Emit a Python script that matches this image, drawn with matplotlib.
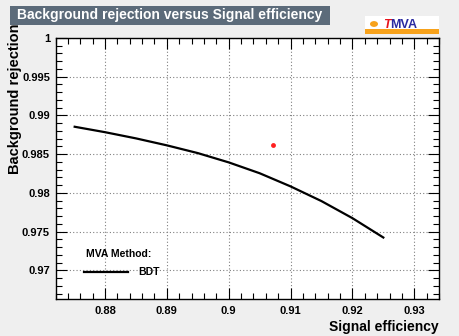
import matplotlib
matplotlib.use('Agg')
import matplotlib.pyplot as plt
from matplotlib.patches import Rectangle
from matplotlib.ticker import MultipleLocator, FuncFormatter

# ROC curve for the BDT classifier
sig_eff = [0.8751, 0.880, 0.885, 0.890, 0.895, 0.900, 0.905, 0.910, 0.915, 0.920, 0.925]
bkg_rej = [0.98854, 0.98784, 0.98704, 0.98614, 0.98514, 0.98394, 0.98254, 0.98084,
           0.97894, 0.97674, 0.97424]

# single working point marker
point_eff = [0.9071]
point_rej = [0.98622]

FONT = 'Liberation Sans'
BG = '#efefef'

fig = plt.figure(figsize=(4.59, 3.36), dpi=100, facecolor=BG)
W, H = 459, 336
left, right, top, bottom = 55.5, 439, 38, 299
ax = fig.add_axes([left / W, 1 - bottom / H, (right - left) / W, (bottom - top) / H])

ax.plot(sig_eff, bkg_rej, color='black', lw=1.6, solid_joinstyle='round')
ax.plot(point_eff, point_rej, 'o', color='#ff2020', ms=3.5, mew=0)

ax.set_xlim(0.872, 0.934)
ax.set_ylim(0.9663, 1.0)

ax.xaxis.set_major_locator(MultipleLocator(0.01))
ax.xaxis.set_minor_locator(MultipleLocator(0.002))
ax.yaxis.set_major_locator(MultipleLocator(0.005))
ax.yaxis.set_minor_locator(MultipleLocator(0.001))
ax.xaxis.set_major_formatter(FuncFormatter(lambda v, p: f'{round(v, 4):g}'))
ax.yaxis.set_major_formatter(FuncFormatter(lambda v, p: f'{round(v, 4):g}'))

ax.tick_params(which='both', direction='in', top=True, right=True, colors='black',
               width=0.8, labelsize=8)
ax.tick_params(which='major', length=8)
ax.tick_params(which='minor', length=4)
for lab in ax.get_xticklabels() + ax.get_yticklabels():
    lab.set_fontfamily(FONT)
    lab.set_fontweight('bold')
ax.tick_params(axis='x', pad=5)
ax.tick_params(axis='y', pad=4)

# dotted grid on the major ticks
ax.grid(True, which='major', color='#808080', ls=(0, (1, 2)), lw=0.8)
for s in ax.spines.values():
    s.set_linewidth(1.0)

# axis titles, ROOT style (aligned to the far ends)
fig.text(right / W, 1 - 327 / H, 'Signal efficiency', ha='right', va='center',
         fontsize=10, fontweight='bold', family=FONT)
fig.text(15 / W, 1 - 24 / H, 'Background rejection', ha='center', va='top',
         rotation=90, fontsize=10.5, fontweight='bold', family=FONT)

# legend
ax.text(0.080, 0.172, 'MVA Method:', transform=ax.transAxes, fontsize=7.5,
        fontweight='bold', family=FONT, va='center')
ax.plot([0.075, 0.19], [0.105, 0.105], transform=ax.transAxes, color='black', lw=1.6)
ax.text(0.215, 0.105, 'BDT', transform=ax.transAxes, fontsize=7.5,
        fontweight='bold', family=FONT, va='center')

# title box
fig.patches.append(Rectangle((10 / W, 1 - 25 / H), 320 / W, 19 / H,
                             transform=fig.transFigure, facecolor='#5c6b7a',
                             edgecolor='none'))
fig.text(17 / W, 1 - 15.5 / H, 'Background rejection versus Signal efficiency',
         ha='left', va='center', color='white', fontsize=10, fontweight='bold',
         family=FONT)

# TMVA logo
fig.patches.append(Rectangle((365 / W, 1 - 34 / H), 74 / W, 18 / H,
                             transform=fig.transFigure, facecolor='white',
                             edgecolor='none'))
fig.patches.append(Rectangle((365 / W, 1 - 34 / H), 74 / W, 5 / H,
                             transform=fig.transFigure, facecolor='#f7a21b',
                             edgecolor='none'))
fig.patches.append(plt.Circle((374 / W, 1 - 24 / H), 4 / W, transform=fig.transFigure,
                              facecolor='#f7a21b', edgecolor='none'))
fig.text(383 / W, 1 - 25 / H, 'T', color='#e8141c', fontsize=9, fontweight='bold',
         style='italic', family=FONT, va='center', ha='left')
fig.text(390 / W, 1 - 25 / H, 'MVA', color='#2a2aa0', fontsize=9, fontweight='bold',
         family=FONT, va='center', ha='left')

fig.savefig('out.png', dpi=100, facecolor=BG)
